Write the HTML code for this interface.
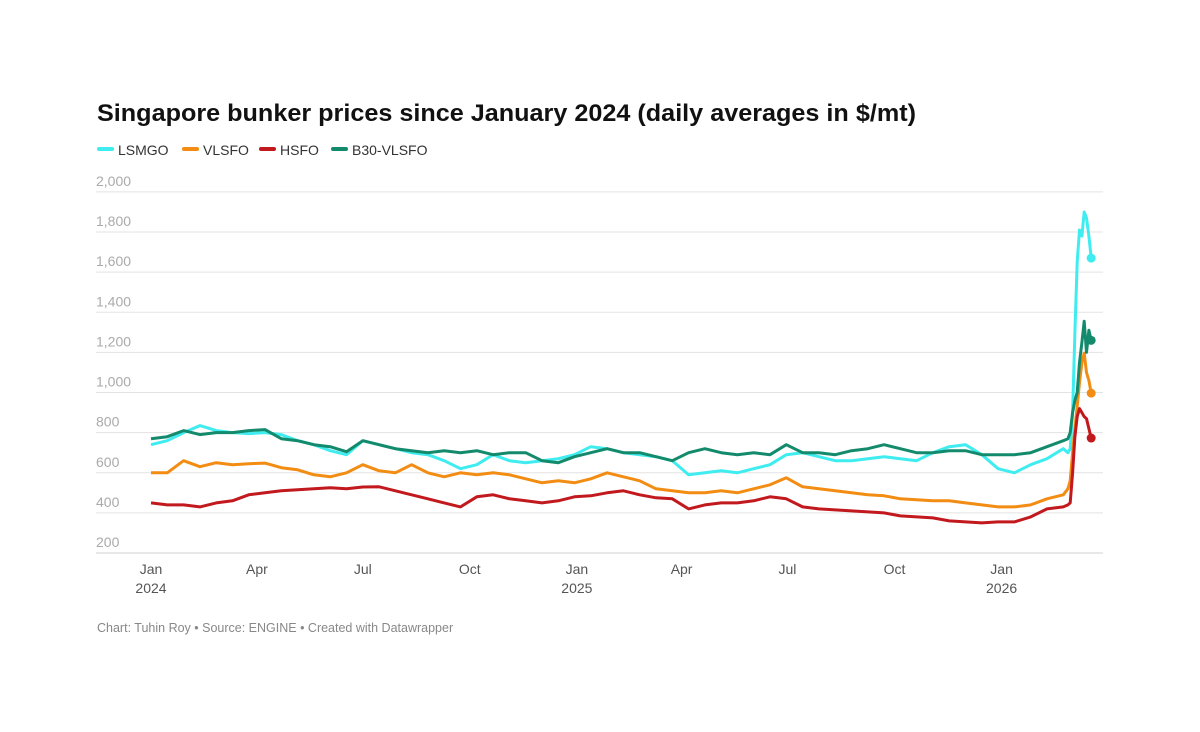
<!DOCTYPE html>
<html><head><meta charset="utf-8"><style>
html,body{margin:0;padding:0;background:#fff;}
svg{display:block;font-family:"Liberation Sans",Arial,sans-serif;}
</style></head><body>
<svg id="chart" width="1200" height="732" viewBox="0 0 1200 732" xmlns="http://www.w3.org/2000/svg">
<text x="97" y="121" font-size="24" font-weight="bold" fill="#111" textLength="819" lengthAdjust="spacingAndGlyphs">Singapore bunker prices since January 2024 (daily averages in $/mt)</text>
<g font-size="14" fill="#333">
<g><rect x="97" y="147" width="17" height="4" rx="2" fill="#3fecef"/><text x="118" y="155">LSMGO</text></g>
<g><rect x="182" y="147" width="17" height="4" rx="2" fill="#f28c12"/><text x="203" y="155">VLSFO</text></g>
<g><rect x="259" y="147" width="17" height="4" rx="2" fill="#c1191d"/><text x="280" y="155">HSFO</text></g>
<g><rect x="331" y="147" width="17" height="4" rx="2" fill="#138a6c"/><text x="352" y="155">B30-VLSFO</text></g>
</g>
<g id="grid"></g>
<g id="xaxis"></g>
<g id="series"></g>
<text x="97" y="632" font-size="12.5" fill="#888">Chart: Tuhin Roy • Source: ENGINE • Created with Datawrapper</text>
</svg>
<script>
const yTicks = [200,400,600,800,1000,1200,1400,1600,1800,2000];
const xTickDays = [0,91,182,274,366,456,547,639,731];
const xTickLabels = ["Jan","Apr","Jul","Oct","Jan","Apr","Jul","Oct","Jan"];
const xTickYears = ["2024","","","","2025","","","","2026"];
const days = [0,14,28,42,56,70,84,98,112,126,140,154,168,182,196,210,224,238,252,266,280,294,308,322,336,350,364,378,392,406,420,434,448,462,476,490,504,518,532,546,560,574,588,602,616,630,644,658,672,686,700,714,728,742,756,770,784,788,790,792,794,796,798,800,802,804,806,808];
const lsmgo = [740,760,800,835,810,800,795,800,790,760,740,710,690,760,740,720,700,690,660,620,640,690,660,650,660,670,690,730,720,700,690,680,660,590,600,610,600,620,640,690,700,680,660,660,670,680,670,660,700,730,740,690,620,600,640,670,720,700,720,900,1300,1650,1810,1780,1900,1870,1780,1670];
const vlsfo = [600,600,660,630,650,640,645,648,625,615,590,580,600,640,610,600,640,600,580,600,590,600,590,570,550,560,550,570,600,580,560,520,510,500,500,510,500,520,540,575,530,520,510,500,490,485,470,465,460,460,450,440,430,430,440,470,490,520,560,700,820,930,1050,1150,1196,1100,1060,997];
const hsfo = [450,440,440,430,450,460,490,500,510,515,520,525,520,529,530,510,490,470,450,430,480,490,470,460,450,460,480,485,500,510,490,475,470,420,440,450,450,460,480,470,430,420,415,410,405,400,385,380,375,360,355,350,355,355,380,420,430,440,450,600,780,880,920,900,880,870,820,773];
const b30 = [770,780,810,790,800,800,810,815,770,760,740,730,705,760,740,720,710,700,710,700,710,690,700,700,660,650,680,700,720,700,700,680,660,700,720,700,690,700,690,740,700,700,690,710,720,740,720,700,700,710,710,690,690,690,700,730,760,770,800,900,960,1000,1150,1250,1355,1200,1310,1260];

const NS="http://www.w3.org/2000/svg";
const xS = d => 151 + d*425/365.25;
const yS = v => 553 - (v-200)*0.2006;
const grid=document.getElementById('grid');
yTicks.forEach(t=>{
  const l=document.createElementNS(NS,'line');
  
  
  l.setAttribute('x1',96);l.setAttribute('x2',1103);
  l.setAttribute('y1',yS(t));l.setAttribute('y2',yS(t));
  l.setAttribute('stroke',t===200?'#d0d0d0':'#e3e3e3');l.setAttribute('stroke-width',1);
  grid.appendChild(l);
  const tx=document.createElementNS(NS,'text');
  
  
  tx.setAttribute('x',96);tx.setAttribute('y',yS(t)-6);
  tx.setAttribute('font-size',14);tx.setAttribute('fill','#aaa');
  tx.textContent=t.toLocaleString('en-US');
  grid.appendChild(tx);
});
const xa=document.getElementById('xaxis');
xTickDays.forEach((d,i)=>{
  const tx=document.createElementNS(NS,'text');
  
  
  tx.setAttribute('x',xS(d));tx.setAttribute('y',574);
  tx.setAttribute('text-anchor','middle');tx.setAttribute('font-size',14);tx.setAttribute('fill','#555');
  tx.textContent=xTickLabels[i];
  xa.appendChild(tx);
  if(xTickYears[i]){
    const ty=document.createElementNS(NS,'text');
    
    
    ty.setAttribute('x',xS(d));ty.setAttribute('y',593);
    ty.setAttribute('text-anchor','middle');ty.setAttribute('font-size',14);ty.setAttribute('fill','#555');
    ty.textContent=xTickYears[i];
    xa.appendChild(ty);
  }
});
const sg=document.getElementById('series');
[[lsmgo,'#3fecef','lsmgo'],[vlsfo,'#f28c12','vlsfo'],[hsfo,'#c1191d','hsfo'],[b30,'#138a6c','b30-vlsfo']].forEach(([vals,c,n])=>{
  const m=Math.min(vals.length,days.length);
  let d='';
  for(let i=0;i<m;i++) d+=(i?'L':'M')+xS(days[i]).toFixed(1)+','+yS(vals[i]).toFixed(1);
  const p=document.createElementNS(NS,'path');
  
  
  p.setAttribute('d',d);p.setAttribute('fill','none');p.setAttribute('stroke',c);
  p.setAttribute('stroke-width',3);p.setAttribute('stroke-linejoin','round');
  sg.appendChild(p);
  const ci=document.createElementNS(NS,'circle');
  
  
  ci.setAttribute('cx',xS(days[m-1]));ci.setAttribute('cy',yS(vals[m-1]));
  ci.setAttribute('r',4.5);ci.setAttribute('fill',c);
  sg.appendChild(ci);
});
</script>
</body></html>
